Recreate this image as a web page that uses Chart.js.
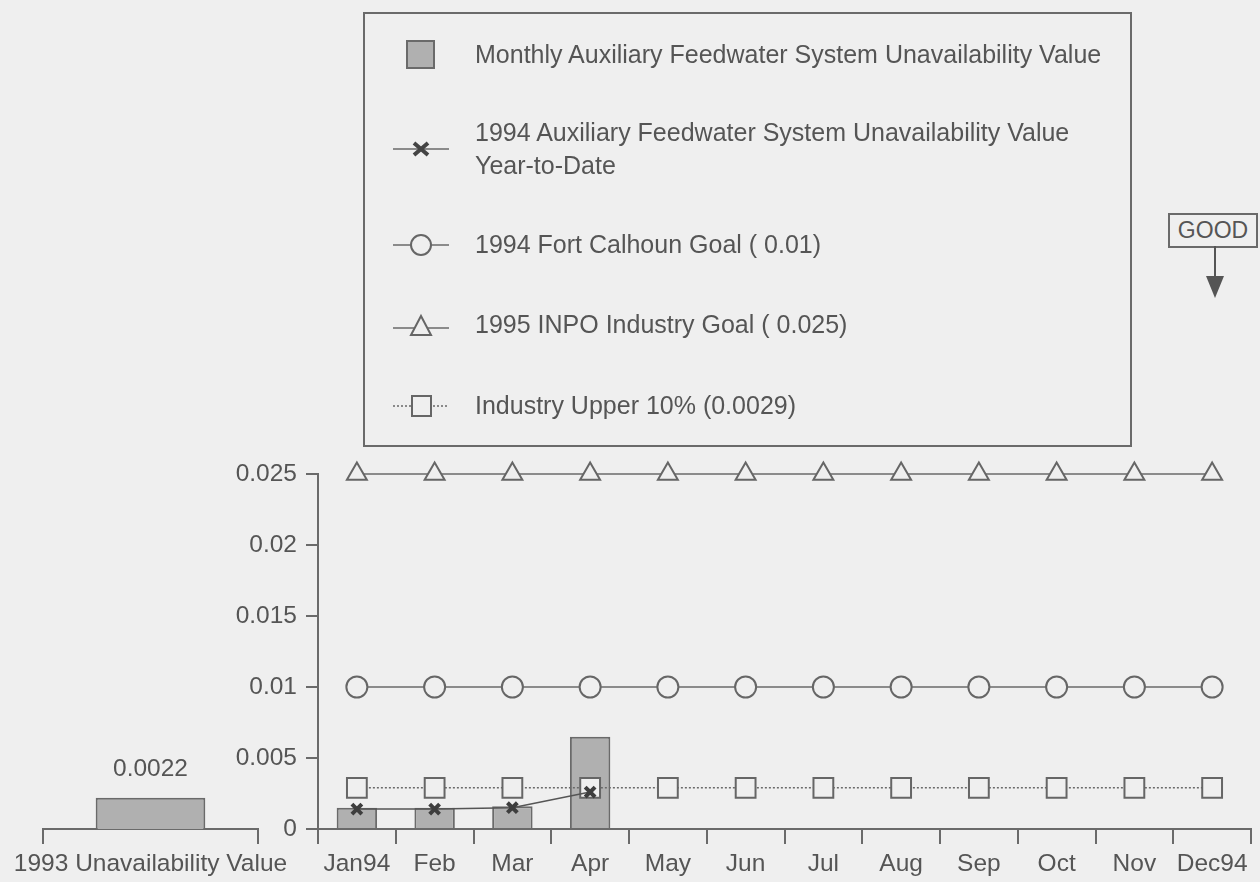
<!DOCTYPE html>
<html>
<head>
<meta charset="utf-8">
<script src="https://cdn.jsdelivr.net/npm/chart.js@4.4.1/dist/chart.umd.min.js"></script>
<style>
  body { margin: 0; background: #efefef; font-family: "Liberation Sans", Arial, sans-serif; color: #555; }
  #page { position: relative; width: 1260px; height: 882px; overflow: hidden; }
  canvas { position: absolute; }
  #legend { position: absolute; left: 363px; top: 12px; width: 765px; height: 431px; border: 2px solid #6a6a6a; font-size: 25px; }
  .row { position: absolute; left: 0; width: 100%; }
  .row svg { position: absolute; left: 24px; }
  .row span { position: absolute; left: 110px; line-height: 33px; white-space: nowrap; }
  #good { position: absolute; left: 1168px; top: 213px; width: 86px; height: 31px; border: 2px solid #6a6a6a; font-size: 23px; text-align: center; line-height: 31px; }
  #arrow { position: absolute; left: 1200px; top: 246px; }
</style>
</head>
<body>
<div id="page">
  <canvas id="prevChart" width="290" height="442" style="left:0;top:440px"></canvas>
  <canvas id="mainChart" width="1067" height="442" style="left:200px;top:440px"></canvas>

  <div id="legend">
    <div class="row" style="top:26px">
      <svg width="60" height="30"><rect x="18" y="1" width="27" height="27" fill="#b0b0b0" stroke="#6a6a6a" stroke-width="2"/></svg>
      <span style="top:-2px">Monthly Auxiliary Feedwater System Unavailability Value</span>
    </div>
    <div class="row" style="top:120px">
      <svg width="60" height="30"><line x1="4" y1="15" x2="60" y2="15" stroke="#6a6a6a" stroke-width="1.5"/><path d="M25 9 L39 21 M39 9 L25 21" stroke="#444" stroke-width="4"/></svg>
      <span style="top:-18px">1994 Auxiliary Feedwater System Unavailability Value<br>Year-to-Date</span>
    </div>
    <div class="row" style="top:216px">
      <svg width="60" height="30"><line x1="4" y1="15" x2="60" y2="15" stroke="#6a6a6a" stroke-width="1.5"/><circle cx="32" cy="15" r="10" fill="#efefef" stroke="#666" stroke-width="2"/></svg>
      <span style="top:-2px">1994 Fort Calhoun Goal ( 0.01)</span>
    </div>
    <div class="row" style="top:296px">
      <svg width="60" height="30"><line x1="4" y1="18" x2="60" y2="18" stroke="#6a6a6a" stroke-width="1.5"/><path d="M32 6 L42 25 L22 25 Z" fill="#efefef" stroke="#666" stroke-width="2"/></svg>
      <span style="top:-2px">1995 INPO Industry Goal ( 0.025)</span>
    </div>
    <div class="row" style="top:377px">
      <svg width="60" height="30"><line x1="4" y1="15" x2="60" y2="15" stroke="#6a6a6a" stroke-width="1.5" stroke-dasharray="2 2"/><rect x="23" y="5" width="19" height="20" fill="#efefef" stroke="#666" stroke-width="2"/></svg>
      <span style="top:-2px">Industry Upper 10% (0.0029)</span>
    </div>
  </div>

  <div id="good">GOOD</div>
  <svg id="arrow" width="30" height="56"><line x1="15" y1="0" x2="15" y2="34" stroke="#555" stroke-width="2"/><path d="M6 30 L24 30 L15 52 Z" fill="#555"/></svg>
</div>

<script>
// 1994 monthly data
const months = ['Jan94', 'Feb', 'Mar', 'Apr', 'May', 'Jun', 'Jul', 'Aug', 'Sep', 'Oct', 'Nov', 'Dec94'];
const monthlyValue = [0.0015, 0.0015, 0.0016, 0.0065, null, null, null, null, null, null, null, null];
const yearToDate = [0.0014, 0.0014, 0.0015, 0.0026, null, null, null, null, null, null, null, null];
const fortCalhounGoal = [0.01, 0.01, 0.01, 0.01, 0.01, 0.01, 0.01, 0.01, 0.01, 0.01, 0.01, 0.01];
const inpoGoal = [0.025, 0.025, 0.025, 0.025, 0.025, 0.025, 0.025, 0.025, 0.025, 0.025, 0.025, 0.025];
const industryUpper = [0.0029, 0.0029, 0.0029, 0.0029, 0.0029, 0.0029, 0.0029, 0.0029, 0.0029, 0.0029, 0.0029, 0.0029];

// 1993 value
const prevCategory = ['1993 Unavailability Value'];
const prevValue = [0.0022];

const yTicks = [0, 0.005, 0.01, 0.015, 0.02, 0.025];
const yTickLabels = ['0', '0.005', '0.01', '0.015', '0.02', '0.025'];

const ink = '#555';
const lineCol = '#6a6a6a';
const bg = '#efefef';
const font = { family: '"Liberation Sans", Arial, sans-serif', size: 24.5 };

Chart.defaults.color = ink;
Chart.defaults.font = font;

const lineSet = (label, data, style, radius, extra) => Object.assign({
    type: 'line',
    label: label,
    data: data,
    borderColor: lineCol,
    borderWidth: 1.5,
    pointStyle: style,
    pointRadius: radius,
    pointBorderColor: '#666',
    pointBorderWidth: 2,
    pointBackgroundColor: bg,
    tension: 0,
    clip: false
}, extra || {});

// keep the x axis flush with the layout padding
const noSidePad = s => { s.height = 53; s.paddingLeft = 0; s.paddingRight = 0; };

new Chart(document.getElementById('mainChart'), {
    type: 'bar',
    data: {
        labels: months,
        datasets: [
            lineSet('1994 Auxiliary Feedwater System Unavailability Value Year-to-Date', yearToDate, 'crossRot', 7,
                { order: 0, borderColor: '#555', pointBorderColor: '#3e3e3e', pointBorderWidth: 4 }),
            lineSet('1994 Fort Calhoun Goal ( 0.01)', fortCalhounGoal, 'circle', 10.5, { order: 2 }),
            lineSet('1995 INPO Industry Goal ( 0.025)', inpoGoal, 'triangle', 11.5, { order: 2 }),
            lineSet('Industry Upper 10% (0.0029)', industryUpper, 'rect', 14, { order: 1, borderDash: [2, 2] }),
            {
                type: 'bar',
                label: 'Monthly Auxiliary Feedwater System Unavailability Value',
                data: monthlyValue,
                backgroundColor: '#b0b0b0',
                borderColor: '#6a6a6a',
                borderWidth: 2,
                categoryPercentage: 1,
                barPercentage: 0.52,
                order: 10
            }
        ]
    },
    options: {
        responsive: false,
        animation: false,
        layout: { padding: { top: 34, right: 10, left: 0, bottom: 0 } },
        plugins: { legend: { display: false }, tooltip: { enabled: false } },
        scales: {
            x: {
                afterFit: noSidePad,
                grid: { offset: true, drawOnChartArea: false, tickLength: 15, color: lineCol, lineWidth: 2 },
                border: { color: lineCol, width: 2 },
                ticks: { padding: 6, maxRotation: 0, autoSkip: false }
            },
            y: {
                min: 0,
                max: 0.025,
                afterFit: s => { s.width = 118; },
                afterBuildTicks: s => { s.ticks = yTicks.map(v => ({ value: v })); },
                grid: { drawOnChartArea: false, tickLength: 12, color: lineCol, lineWidth: 2 },
                border: { color: lineCol, width: 2 },
                ticks: { padding: 9, callback: v => yTickLabels[yTicks.indexOf(v)] }
            }
        }
    }
});

const valueLabel = {
    id: 'valueLabel',
    afterDatasetsDraw(chart) {
        const ctx = chart.ctx;
        ctx.save();
        ctx.fillStyle = ink;
        ctx.font = '24.5px "Liberation Sans", Arial, sans-serif';
        ctx.textAlign = 'center';
        ctx.textBaseline = 'middle';
        chart.getDatasetMeta(0).data.forEach((bar, i) => {
            ctx.fillText(String(chart.data.datasets[0].data[i]), bar.x, bar.y - 29);
        });
        ctx.restore();
    }
};

new Chart(document.getElementById('prevChart'), {
    type: 'bar',
    data: {
        labels: prevCategory,
        datasets: [{
            data: prevValue,
            backgroundColor: '#b0b0b0',
            borderColor: '#6a6a6a',
            borderWidth: 2,
            categoryPercentage: 1,
            barPercentage: 0.51
        }]
    },
    options: {
        responsive: false,
        animation: false,
        layout: { padding: { top: 34, right: 32, left: 43, bottom: 0 } },
        plugins: { legend: { display: false }, tooltip: { enabled: false } },
        scales: {
            x: {
                afterFit: noSidePad,
                grid: { offset: true, drawOnChartArea: false, tickLength: 15, color: lineCol, lineWidth: 2 },
                border: { color: lineCol, width: 2 },
                ticks: { padding: 6, maxRotation: 0 }
            },
            y: { display: false, min: 0, max: 0.025 }
        }
    },
    plugins: [valueLabel]
});
</script>
</body>
</html>
